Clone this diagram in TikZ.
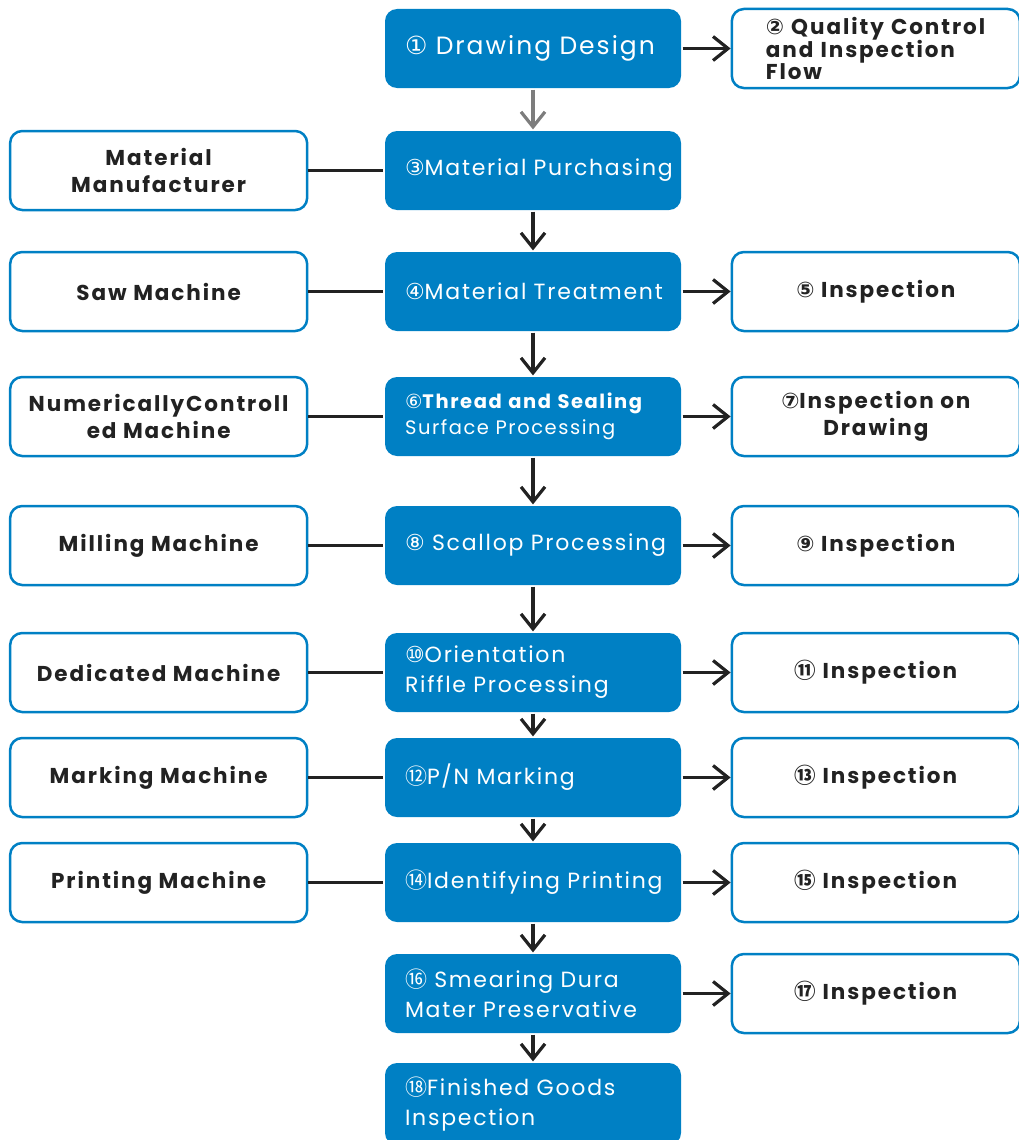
\documentclass[tikz,border=0pt]{standalone}
\usepackage{fontspec}
\setmainfont{Poppins}
\newfontfamily\circfont{DejaVu Sans}
\newfontfamily\cjkcirc{Noto Sans CJK SC}
\newfontfamily\stagefont[LetterSpace=8]{Poppins}
\newfontfamily\toolfont[LetterSpace=9]{Poppins}
\usetikzlibrary{positioning}
\usetikzlibrary{arrows.meta}
\definecolor{flowblue}{RGB}{0,128,196}
\definecolor{ink}{RGB}{34,34,34}
\definecolor{arrowgray}{RGB}{125,125,125}
\newcommand{\cnum}[1]{{\circfont #1}}
\newcommand{\ccnum}[1]{{\cjkcirc #1}}
\begin{document}
\begin{tikzpicture}[x=1pt,y=-1pt,>={Straight Barb[length=15pt,width=24pt]},line width=3.2pt,draw=ink,
  stage/.style={fill=flowblue,rounded corners=12pt,minimum width=296pt,minimum height=79pt,text width=256pt,inner xsep=20pt,align=left,text=white,font=\stagefont\fontsize{22}{30}\selectfont},
  tool/.style={draw=flowblue,line width=2.5pt,fill=white,rounded corners=12pt,minimum width=297pt,minimum height=79pt,align=center,text=ink,font=\toolfont\bfseries\fontsize{21.5}{27}\selectfont},
  check/.style={tool,minimum width=288pt}]
\useasboundingbox (0,0) rectangle (1019,1140);
% main column
\path node[stage,font=\stagefont\fontsize{25}{30}\selectfont] (s1) at (533,48.5) {\mbox{\cnum{①} Drawing Design}};
\path node[stage] (s3) at (533,170.5) {\mbox{\cnum{③}Material Purchasing}};
\path node[stage] (s4) at (533,291.5) {\mbox{\cnum{④}Material Treatment}};
\path node[stage,font=\stagefont\fontsize{19.5}{26}\selectfont] (s6) at (533,416.5) {\mbox{\cnum{⑥}\bfseries Thread and Sealing}\\\mbox{Surface Processing}};
\path node[stage] (s8) at (533,545.5) {\mbox{\cnum{⑧} Scallop Processing}};
\path node[stage] (s10) at (533,672.5) {\mbox{\cnum{⑩}Orientation}\\\mbox{Riffle Processing}};
\path node[stage] (s12) at (533,777.5) {\mbox{\ccnum{⑫}P/N Marking}};
\path node[stage] (s14) at (533,882.5) {\mbox{\ccnum{⑭}Identifying Printing}};
\path node[stage] (s16) at (533,993.5) {\mbox{\ccnum{⑯} Smearing Dura}\\\mbox{Mater Preservative}};
\path node[stage,minimum height=82pt] (s18) at (533,1104) {\mbox{\ccnum{⑱}Finished Goods}\\\mbox{Inspection}};
% machines
\path node[tool,left=75pt of s3] (t3) {Material\\Manufacturer};
\path node[tool,left=75pt of s4] (t4) {Saw Machine};
\path node[tool,left=75pt of s6] (t6) {NumericallyControll\\ed Machine};
\path node[tool,left=75pt of s8] (t8) {Milling Machine};
\path node[tool,left=75pt of s10] (t10) {Dedicated Machine};
\path node[tool,left=75pt of s12] (t12) {Marking Machine};
\path node[tool,left=75pt of s14] (t14) {Printing Machine};
% inspections
\path node[check,right=48pt of s1,text width=220pt,inner xsep=34pt,align=left,font=\toolfont\bfseries\fontsize{21.5}{22}\selectfont] (c2) {\mbox{\cnum{②} Quality Control}\\and Inspection\\Flow};
\path node[check,right=48pt of s4] (c5) {\cnum{⑤} Inspection};
\path node[check,right=48pt of s6] (c7) {\cnum{⑦}Inspection on\\Drawing};
\path node[check,right=48pt of s8] (c9) {\cnum{⑨} Inspection};
\path node[check,right=48pt of s10] (c11) {\ccnum{⑪} Inspection};
\path node[check,right=48pt of s12] (c13) {\ccnum{⑬} Inspection};
\path node[check,right=48pt of s14] (c15) {\ccnum{⑮} Inspection};
\path node[check,right=48pt of s16] (c17) {\ccnum{⑰} Inspection};
% flow
\path[->] (s1) edge[arrowgray] (s3);
\path[->] (s3) edge (s4);
\path[->] (s4) edge (s6);
\path[->] (s6) edge (s8);
\path[->] (s8) edge (s10);
\path[->] (s10) edge (s12);
\path[->] (s12) edge (s14);
\path[->] (s14) edge (s16);
\path[->] (s16) edge (s18);
\path[->] (s1) edge (c2);
\path[->] (s4) edge (c5);
\path[->] (s6) edge (c7);
\path[->] (s8) edge (c9);
\path[->] (s10) edge (c11);
\path[->] (s12) edge (c13);
\path[->] (s14) edge (c15);
\path[->] (s16) edge (c17);
\path (t3) edge (s3);
\path (t4) edge (s4);
\path (t6) edge (s6);
\path (t8) edge (s8);
\path (t10) edge (s10);
\path (t12) edge (s12);
\path (t14) edge (s14);
\end{tikzpicture}
\end{document}
